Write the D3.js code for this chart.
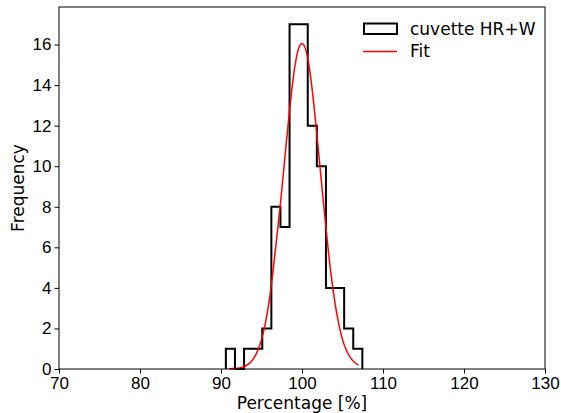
<!DOCTYPE html>
<html>
<head>
<meta charset="utf-8">
<script src="https://cdn.jsdelivr.net/npm/d3@7"></script>
<style>
  body { margin: 0; background: #fff; }
  svg { display: block; font-family: "DejaVu Sans", sans-serif; }
  .axis text { font-size: 17px; fill: #000; }
  .axis path, .axis line { stroke: #000; }
</style>
</head>
<body>
<svg width="561" height="413"></svg>
<script>
// histogram: 15 bins between the data min and max
const binLo = 90.6,
  binHi = 107.45,
  counts = [1, 0, 1, 1, 2, 8, 7, 17, 17, 12, 10, 4, 4, 2, 1];

// fitted curve
const fitX = [91, 91.5, 92, 92.5, 93, 93.5, 94, 94.5, 95, 95.5, 96, 96.5, 97, 97.5, 98, 98.5,
  99, 99.5, 100, 100.5, 101, 101.5, 102, 102.5, 103, 103.5, 104, 104.5, 105, 105.5, 106, 106.5, 107];
const fitY = [0.01, 0.02, 0.04, 0.08, 0.15, 0.28, 0.5, 0.88, 1.45, 2.3, 3.5, 5.1, 6.9, 8.8, 10.9, 12.9,
  14.6, 15.7, 16.05, 15.7, 14.6, 12.9, 10.9, 8.8, 6.8, 4.95, 3.45, 2.3, 1.45, 0.9, 0.55, 0.32, 0.2];

const xTicks = [70, 80, 90, 100, 110, 120, 130],
  yTicks = [0, 2, 4, 6, 8, 10, 12, 14, 16];

const svg = d3.select("svg");
const margin = {top: 7, right: 16, bottom: 44, left: 59},
  width = +svg.attr("width") - margin.left - margin.right,
  height = +svg.attr("height") - margin.top - margin.bottom;

const scaleX = d3.scaleLinear().domain([70, 130]).range([0, width]);
const scaleY = d3.scaleLinear().domain([0, d3.max(counts) * 1.05]).range([height, 0]);

const g = svg.append("g")
  .attr("transform", `translate(${margin.left},${margin.top})`);

// bin edges
const step = (binHi - binLo) / counts.length;
const edges = counts.map((c, i) => binLo + i * step).concat([binHi]);

// step outline like histtype='step'
let pts = [[edges[0], 0]];
counts.forEach((c, i) => {
  pts.push([edges[i], c]);
  pts.push([edges[i + 1], c]);
});
pts.push([edges[edges.length - 1], 0]);

g.append("path")
  .attr("fill", "none")
  .attr("stroke", "#000")
  .attr("stroke-width", 2)
  .attr("stroke-linejoin", "miter")
  .attr("d", d3.line().x(d => scaleX(d[0])).y(d => scaleY(d[1]))(pts));

// fit
g.append("path")
  .attr("fill", "none")
  .attr("stroke", "#ff0000")
  .attr("stroke-width", 1.5)
  .attr("d", d3.line()
    .curve(d3.curveMonotoneX)
    .x((d, i) => scaleX(fitX[i]))
    .y(d => scaleY(d))(fitY));

// frame
g.append("rect")
  .attr("width", width).attr("height", height)
  .attr("fill", "none").attr("stroke", "#000").attr("stroke-width", 1);

// Axes
g.append("g")
  .attr("class", "axis")
  .attr("transform", `translate(0,${height})`)
  .call(d3.axisBottom(scaleX).tickValues(xTicks).tickSize(4.5).tickPadding(3))
  .call(a => a.select(".domain").remove());

g.append("g")
  .attr("class", "axis")
  .call(d3.axisLeft(scaleY).tickValues(yTicks).tickSize(4.5).tickPadding(3))
  .call(a => a.select(".domain").remove());

// Axis Labels
svg.append("text")
  .attr("font-size", "17px")
  .attr("text-anchor", "middle")
  .attr("x", margin.left + width / 2)
  .attr("y", 409)
  .text("Percentage [%]");

svg.append("text")
  .attr("font-size", "17px")
  .attr("text-anchor", "middle")
  .attr("transform", `translate(24,${margin.top + height / 2}) rotate(-90)`)
  .text("Frequency");

// Legend
const leg = svg.append("g");
leg.append("rect")
  .attr("x", 364).attr("y", 23.5).attr("width", 33).attr("height", 10.5)
  .attr("fill", "none").attr("stroke", "#000").attr("stroke-width", 2);
leg.append("text")
  .attr("font-size", "17px").attr("x", 410).attr("y", 34.5)
  .text("cuvette HR+W");
leg.append("line")
  .attr("x1", 363).attr("x2", 397).attr("y1", 51.5).attr("y2", 51.5)
  .attr("stroke", "#ff0000").attr("stroke-width", 1.5);
leg.append("text")
  .attr("font-size", "17px").attr("x", 410).attr("y", 57)
  .text("Fit");
</script>
</body>
</html>
